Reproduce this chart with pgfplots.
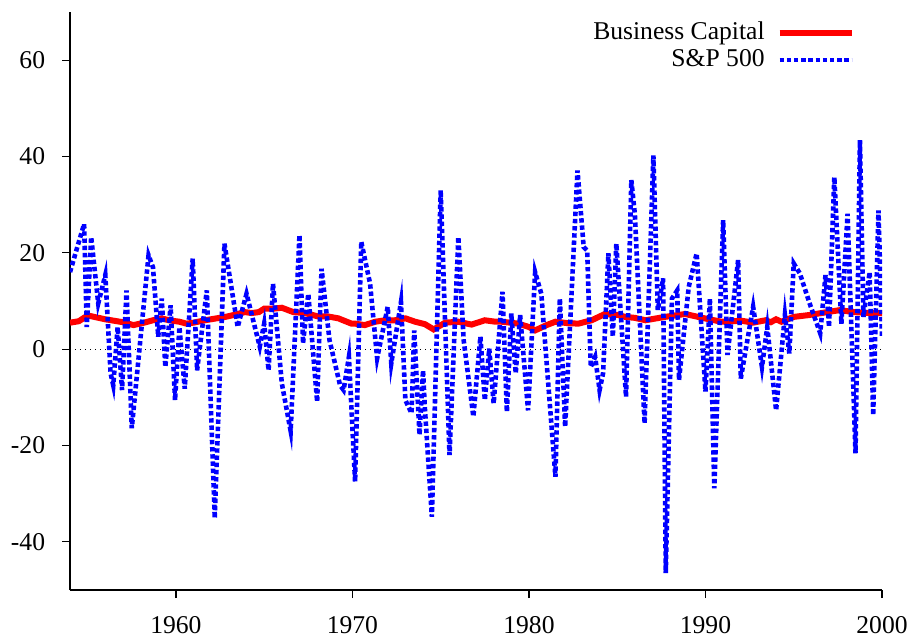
\documentclass[border=0pt]{standalone}
\usepackage{fontspec}
\setmainfont{Liberation Serif}
\usepackage{pgfplots}
\pgfplotsset{compat=1.18}
\pgfplotstableread{
x y
1954.0 5.5
1954.5 5.8
1955.0 7.0
1955.5 6.6
1956.0 6.2
1956.5 5.9
1957.0 5.6
1957.6 5.0
1958.2 5.5
1958.7 6.0
1959.2 6.4
1959.6 6.0
1960.2 5.7
1960.6 5.3
1961.0 5.5
1961.65 6.0
1962.3 6.4
1962.8 6.7
1963.4 7.2
1963.9 7.7
1964.3 7.5
1964.7 7.7
1965.0 8.4
1965.5 8.4
1966.0 8.6
1966.65 7.7
1967.3 7.5
1968.05 6.8
1968.6 6.8
1969.2 6.4
1969.95 5.3
1970.15 5.3
1970.7 5.0
1971.3 5.7
1971.85 6.0
1972.4 6.0
1973.0 6.4
1973.55 5.7
1974.1 5.2
1974.6 4.1
1975.25 5.5
1976.0 5.7
1976.75 5.1
1977.5 6.0
1978.1 5.7
1978.45 5.7
1979.4 5.3
1980.0 4.6
1980.35 3.9
1981.0 5.0
1981.5 5.7
1982.2 5.4
1982.8 5.3
1983.55 6.0
1984.3 7.3
1985.05 7.1
1985.45 6.7
1986.0 6.5
1986.6 6.0
1987.7 6.7
1988.85 7.3
1989.95 6.4
1990.9 5.7
1992.05 5.9
1992.7 5.5
1993.4 6.0
1993.7 5.6
1994.0 6.2
1994.3 5.7
1995.0 6.7
1995.9 7.1
1996.9 7.7
1997.6 8.1
1998.4 7.7
1999.3 7.5
2000.0 7.5
}\bizcap
\pgfplotstableread{
x y
1954.0 16
1954.8 26
1954.95 4.6
1955.2 23.3
1955.6 9.5
1956.0 15.4
1956.3 -5
1956.45 -7.5
1956.7 4.6
1956.95 -8.5
1957.2 12.2
1957.5 -16.4
1958.45 19.5
1958.7 17
1959.0 2.6
1959.2 10.5
1959.4 -3.7
1959.7 9.1
1959.95 -10.6
1960.2 4.6
1960.5 -8.2
1960.95 18.8
1961.2 -4.4
1961.75 12.2
1962.2 -35.1
1962.75 21.9
1963.5 4.6
1964.0 11.5
1964.75 0.5
1965.0 5.3
1965.25 -4.4
1965.5 13.6
1966.0 -7.1
1966.5 -17.0
1967.0 23.7
1967.2 1.2
1967.5 11.5
1968.0 -10.9
1968.25 16.7
1968.7 1.9
1969.3 -7.5
1969.5 -8.5
1969.8 -1.6
1970.15 -27.5
1970.5 22.3
1971.0 13.6
1971.4 -1.9
1972.0 8.8
1972.2 -3.0
1972.75 9.8
1973.0 -10.6
1973.35 -13.3
1973.5 3.9
1973.8 -17.8
1974.0 -4.4
1974.1 -12.0
1974.5 -34.8
1975.0 33.0
1975.5 -22.0
1976.0 23.3
1976.3 1.9
1976.85 -14.0
1977.25 2.6
1977.5 -10.6
1977.75 0.1
1978.0 -11.3
1978.5 11.9
1978.75 -13.0
1979.0 7.4
1979.25 -5.0
1979.5 7.1
1979.95 -12.7
1980.35 16.0
1980.7 11.5
1981.5 -26.5
1981.75 10.5
1982.05 -16.1
1982.75 37.1
1983.1 21.2
1983.3 20.5
1983.5 -3.7
1983.75 -1.6
1984.0 -8.5
1984.2 -5.0
1984.5 19.9
1984.75 2.6
1984.95 21.9
1985.5 -9.9
1985.8 35.1
1986.0 28
1986.55 -15.4
1987.05 40.2
1987.3 8.1
1987.6 14.7
1987.75 -46.5
1988.1 10.5
1988.4 12.2
1988.5 -6.4
1989.05 12.9
1989.5 19.9
1990.0 -8.8
1990.25 10.5
1990.5 -28.9
1991.0 26.8
1991.25 -1.2
1991.85 18.5
1992.0 -6.1
1992.7 8.8
1993.2 -3.7
1993.5 4.6
1994.0 -12.7
1994.5 7.1
1994.75 -0.9
1995.0 17.8
1995.35 15.7
1995.9 9.5
1996.5 3.3
1996.8 15.4
1997.0 4.6
1997.3 35.7
1997.7 5.3
1998.05 28.1
1998.5 -21.6
1998.75 43.4
1998.95 6.7
1999.3 16.0
1999.5 -13.7
1999.8 28.8
2000.0 2.6
}\sandp
\begin{document}
\fontsize{12.8bp}{15bp}\selectfont
\begin{tikzpicture}
\begin{axis}[
  at={(0,0)}, anchor=south west,
  scale only axis, width=406bp, height=289bp,
  xmin=1954, xmax=2000, ymin=-50, ymax=70,
  axis x line*=bottom, axis y line*=left,
  xtick={1960,1970,1980,1990,2000},
  ytick={-40,-20,0,20,40,60},
  tick align=outside, major tick length=4bp,
  tick style={black, line width=0.6bp},
  axis line style={black, line width=0.6bp},
  /pgf/number format/assume math mode=true,
  xticklabel style={/pgf/number format/1000 sep={}, inner ysep=0.5bp, yshift=-8.3bp},
  yticklabel style={xshift=-4bp},
  tick label style={font=\fontsize{12.8bp}{15bp}\selectfont},
  legend style={at={(rel axis cs:0.9668,0.99)}, anchor=north east,
    draw=none, fill=none, inner sep=0pt, row sep=-1bp, column sep=4bp,
    font=\fontsize{12.8bp}{15bp}\selectfont},
  legend cell align=right,
  legend plot pos=right,
  legend image code/.code={\draw[#1] (0bp,0bp) -- (36bp,0bp);},
]
\addplot[black, line width=0.5bp, dash pattern=on 0.5bp off 2bp, forget plot] coordinates {(1954,0) (2000,0)};
\addplot[red, line width=3bp] table[x=x,y=y] {\bizcap};
\addlegendentry{Business Capital}
\addplot[blue, line width=2.3bp, dash pattern=on 2.2bp off 1.4bp] table[x=x,y=y] {\sandp};
\addlegendentry{S\&P 500}
\end{axis}
\pgfresetboundingbox
\path[use as bounding box] (-35bp,-24bp) rectangle (422.5bp,295bp);
\end{tikzpicture}
\end{document}
